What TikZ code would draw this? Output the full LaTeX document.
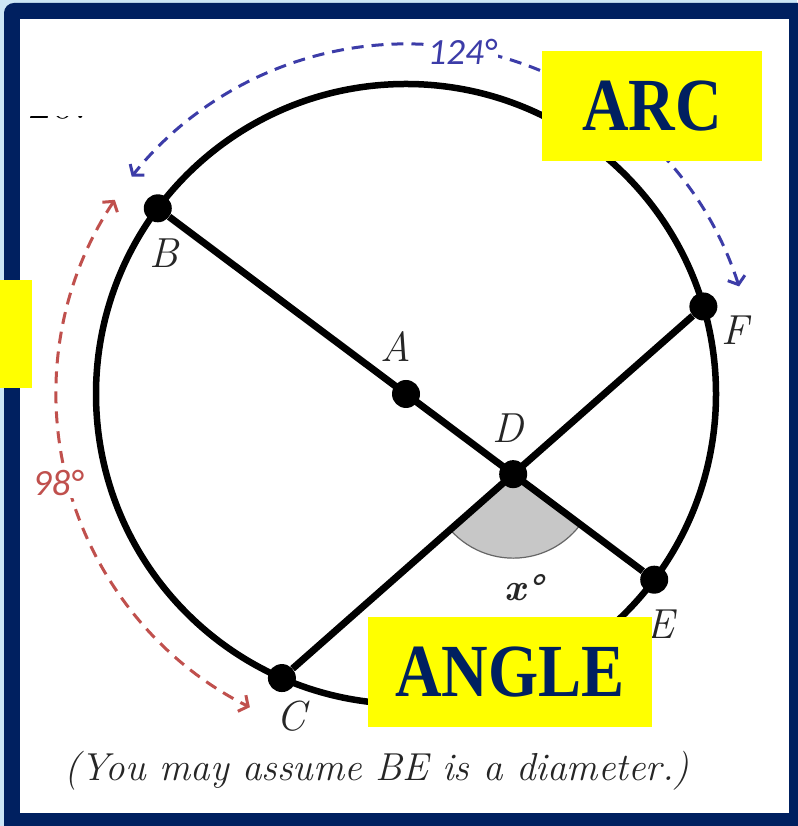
\documentclass[tikz,border=0pt]{standalone}
\usepackage{fontspec}
\usepackage{graphicx}
\usetikzlibrary{arrows.meta,calc,positioning}
\newfontfamily\degfont{Carlito}
\newfontfamily\tagfont{Liberation Serif}
\definecolor{framenavy}{HTML}{002060}
\definecolor{framesky}{HTML}{CCE6F6}
\definecolor{tagyellow}{HTML}{FFFF00}
\definecolor{arcblue}{HTML}{3C3CA8}
\definecolor{arcred}{HTML}{C0504D}
\definecolor{inkgray}{HTML}{262626}
\tikzset{
  >={Straight Barb[length=7pt,width=18pt]},
  % kreis
  rim/.style={draw=black,line width=6.5pt},
  chord/.style={draw=black,line width=7pt},
  pnt/.style={circle,fill=black,inner sep=0pt,minimum size=28pt},
  lbl/.style={font=\fontsize{42}{46}\selectfont\itshape,text=inkgray,inner sep=0pt},
  wedge/.style={fill=black!22,draw=black!60,line width=1.2pt},
  % bögen
  arcb/.style={<->,draw=arcblue,line width=3pt,dash pattern=on 12pt off 8pt},
  arcr/.style={<->,draw=arcred,line width=3pt,dash pattern=on 12pt off 8pt},
  deg/.style={font=\fontsize{37}{40}\selectfont\degfont\itshape,fill=white,inner sep=2pt},
  % markeringar
  tag/.style={fill=tagyellow,text=framenavy,inner sep=0pt,
              font=\fontsize{75}{80}\selectfont\tagfont\bfseries},
}

\begin{document}
\begin{tikzpicture}[x=1pt,y=1pt]
\useasboundingbox (0,0) rectangle (797,826);
  % rahmen
  \fill[framesky] (0,0) rectangle (797,826);
  \fill[framenavy,rounded corners=10pt] (4,-20) rectangle (820,823);
  \fill[white] (20,13) rectangle (789,807);
  \begin{scope}
    \clip (25,706.5) rectangle (100,709.5);
    \node[anchor=base west,inner sep=0pt,font=\fontsize{50}{50}\selectfont] (nr) at (28,707) {20.};
  \end{scope}
  % punkte
  \coordinate (pA) at (406,432);
  \coordinate (pB) at ($(pA)+(143.2:310)$);
  \coordinate (pE) at ($(pA)+(-36.8:310)$);
  \coordinate (pF) at ($(pA)+(16.4:310)$);
  \coordinate (pC) at ($(pA)+(246.4:310)$);
  \coordinate (pD) at (intersection of pB--pE and pC--pF);
  \draw[rim] (pA) circle[radius=310];
  \draw[wedge] (pD) -- ++(221.6:84) arc[start angle=221.6,end angle=323.3,radius=84] -- cycle;
  \node[pnt] (A) at (pA) {};
  \node[pnt] (B) at (pB) {};
  \node[pnt] (C) at (pC) {};
  \node[pnt] (D) at (pD) {};
  \node[pnt] (E) at (pE) {};
  \node[pnt] (F) at (pF) {};
  \draw[chord] (B) -- (E);
  \draw[chord] (C) -- (F);
  \node[lbl] (lB) at (164,573) {B};
  \node[lbl] (lA) at (396,479) {A};
  \node[lbl] (lD) at (508,398) {D};
  \node[lbl] (lF) at (735,496) {F};
  \node[lbl] (lE) at (660,202) {E};
  \node[lbl] (lC) at (291,110) {C};
  \node[font=\fontsize{38}{42}\selectfont\bfseries\itshape,text=inkgray] (xa) at (524,238) {x°};
  % bögen
  \coordinate (bF) at ($(pA)+(17.9:350)$);
  \coordinate (rB) at ($(pA)+(146.3:350)$);
  \draw[arcb] (bF) arc[start angle=17.9,end angle=141.6,radius=350];
  \draw[arcr] (rB) arc[start angle=146.3,end angle=243.5,radius=350];
  \node[deg,text=arcblue] (d124) at (462,774) {124°};
  \node[deg,text=arcred] (d98) at (58,343) {98°};
  % markeringar
  \node[tag,minimum width=220pt,minimum height=110pt] (arc) at (652,720) {\scalebox{0.86}[1]{ARC}};
  \node[tag,minimum width=284pt,minimum height=110pt] (angle) at (510,154) {\scalebox{0.86}[1]{ANGLE}};
  \node[tag,minimum width=32pt,minimum height=108pt] (side) at (16,492) {};
  \node[font=\fontsize{39}{44}\selectfont\itshape,text=inkgray] (cap) at (377,55) {(You may assume BE is a diameter.)};
\end{tikzpicture}
\end{document}
